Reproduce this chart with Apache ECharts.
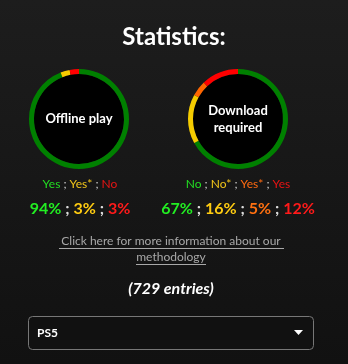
<!DOCTYPE html>
<html><head><meta charset="utf-8">
<script src="https://cdn.jsdelivr.net/npm/echarts@6/dist/echarts.min.js"></script>
<style>html,body{margin:0;padding:0;background:#161616;}#c{width:348px;height:364px;}</style>
</head><body><div id="c"></div>
<script>
const titleText = 'Statistics:';
const offlineName = 'Offline play';
const offlineLabels = ['Yes', 'Yes*', 'No'];
const offlineValues = [94, 3, 3];
const downloadName = 'Download\nrequired';
const downloadLabels = ['No', 'No*', 'Yes*', 'Yes'];
const downloadValues = [67, 16, 5, 12];
const entries = 729;
const platform = 'PS5';

const ringOffline = ['#008000', '#f5cc00', '#ff0000'];
const ringDownload = ['#008000', '#f5cc00', '#ff6600', '#ff0000'];
const txtOffline = ['g', 'y', 'r'];
const txtDownload = ['g', 'y', 'o', 'r'];
const FONT = 'Lato';

const chart = echarts.init(document.getElementById('c'));

function ring(center, labels, values, colors) {
  return [{
    type: 'pie', silent: true, center: center, radius: [0, 45], z: 1,
    label: {show: false}, labelLine: {show: false},
    data: [{value: 1, itemStyle: {color: '#000'}}], animation: false
  }, {
    type: 'pie', silent: true, center: center, radius: [45, 50], z: 1,
    startAngle: 90, clockwise: true,
    label: {show: false}, labelLine: {show: false},
    data: labels.map((l, i) => ({name: l, value: values[i], itemStyle: {color: colors[i]}})),
    animation: false
  }];
}

function mkRich(size, weight) {
  const c = {g: '#22dd22', y: '#f0c419', o: '#ff6a10', r: '#e81414', s: '#cccccc'};
  if (weight === 'bold') { c.g = '#22ee22'; c.y = '#ffcc11'; c.o = '#ff7010'; c.r = '#ff1a1a'; c.s = '#dddddd'; }
  const out = {};
  Object.keys(c).forEach(k => { out[k] = {fill: c[k], fontSize: size, fontWeight: weight, fontFamily: FONT}; });
  return out;
}
const richSmall = mkRich(12, 'normal');
const richBig = mkRich(16, 'bold');
function legendStr(labels, keys) {
  return labels.map((l, i) => '{' + keys[i] + '|' + l + '}').join('{s| ; }');
}
function pctStr(values, keys) {
  return values.map((v, i) => '{' + keys[i] + '|' + v + '%}').join('{s| ; }');
}

function centerText(x, y, t, rich) {
  return {type: 'text', x: x, y: y, silent: true, z: 100,
    style: {text: t, rich: rich, align: 'center', verticalAlign: 'middle', fill: '#fff',
      font: 'bold 13px ' + FONT, lineHeight: 17}};
}

chart.setOption({
  backgroundColor: {type: 'linear', x: 0, y: 0, x2: 0, y2: 1,
    colorStops: [{offset: 0, color: '#1d1d1d'}, {offset: 1, color: '#111111'}]},
  title: {text: titleText, left: 'center', top: 20,
    textStyle: {color: '#fff', fontSize: 24, fontWeight: 'bold', fontFamily: FONT}},
  series: [].concat(ring([79, 119], offlineLabels, offlineValues, ringOffline),
                    ring([238, 119], downloadLabels, downloadValues, ringDownload)),
  graphic: [
    centerText(79, 119, offlineName),
    centerText(238, 119, downloadName),
    centerText(80, 184, legendStr(offlineLabels, txtOffline), richSmall),
    centerText(238, 184, legendStr(downloadLabels, txtDownload), richSmall),
    centerText(80, 209, pctStr(offlineValues, txtOffline), richBig),
    centerText(238, 209, pctStr(downloadValues, txtDownload), richBig),
    {type: 'text', x: 171, y: 241, silent: true, z: 100,
      style: {text: 'Click here for more information about our', align: 'center', verticalAlign: 'middle',
        fill: '#a8a8a8', font: '12px ' + FONT}},
    {type: 'text', x: 171, y: 257, silent: true, z: 100,
      style: {text: 'methodology', align: 'center', verticalAlign: 'middle',
        fill: '#a8a8a8', font: '12px ' + FONT}},
    {type: 'line', silent: true, z: 100, shape: {x1: 59, y1: 248.5, x2: 284, y2: 248.5}, style: {stroke: '#a8a8a8', lineWidth: 1}},
    {type: 'line', silent: true, z: 100, shape: {x1: 136, y1: 264.5, x2: 206, y2: 264.5}, style: {stroke: '#a8a8a8', lineWidth: 1}},
    {type: 'text', x: 171, y: 289, silent: true, z: 100,
      style: {text: '(' + entries + ' entries)', align: 'center', verticalAlign: 'middle',
        fill: '#fff', font: 'italic bold 16px ' + FONT}},
    {type: 'rect', silent: true, z: 100, shape: {x: 28.5, y: 316.5, width: 285, height: 33, r: 4},
      style: {fill: '#111111', stroke: '#777777', lineWidth: 1}},
    {type: 'text', x: 37, y: 333, silent: true, z: 101,
      style: {text: platform, verticalAlign: 'middle', fill: '#fff', font: 'bold 12px ' + FONT}},
    {type: 'polygon', silent: true, z: 101, shape: {points: [[294, 330], [303, 330], [298.5, 335]]},
      style: {fill: '#ffffff'}}
  ]
});
</script></body></html>
